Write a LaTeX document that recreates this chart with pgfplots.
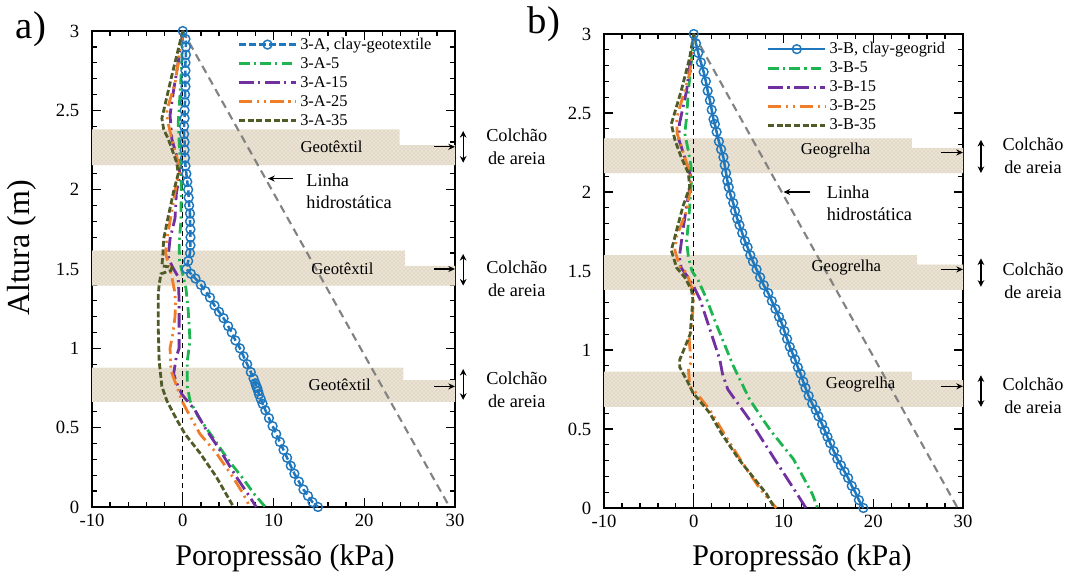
\documentclass[border=0pt]{standalone}
\usepackage{pgfplots}
\pgfplotsset{compat=1.18}
\usepackage{fontspec}
\setmainfont{Liberation Serif}
\usetikzlibrary{patterns,arrows.meta}

\definecolor{cblue}{RGB}{31,119,190}
\definecolor{cgreen}{RGB}{30,180,80}
\definecolor{cpurple}{RGB}{112,48,160}
\definecolor{corange}{RGB}{240,125,40}
\definecolor{colive}{RGB}{80,92,40}
\definecolor{sand}{RGB}{234,226,210}
\definecolor{sanddark}{RGB}{200,190,170}
\definecolor{hydro}{RGB}{130,130,130}

\newcommand{\ticksize}{\fontsize{14}{16}\selectfont}
\newcommand{\legsize}{\fontsize{12.3}{13.9}\selectfont}
\newcommand{\notesize}{\fontsize{13.7}{17.4}\selectfont}
\newcommand{\bandsize}{\fontsize{12.5}{14}\selectfont}
\newcommand{\labsize}{\fontsize{22.5}{24}\selectfont}

\tikzset{
  note/.style={font=\notesize, align=center, inner sep=0pt},
  bandlabel/.style={font=\bandsize, inner sep=0pt},
  sarrow/.style={-{Stealth[length=5pt,width=4.5pt]}, line width=0.9pt, black},
  darrow/.style={{Stealth[length=5pt,width=5pt]}-{Stealth[length=5pt,width=5pt]}, line width=0.9pt, black},
}

\pgfplotsset{
  panel/.style={
    scale only axis, clip=false,
    xmin=-10, xmax=30, ymin=0, ymax=3,
    xtick={-10,0,10,20,30}, xticklabels={-10,0,10,20,30},
    ytick={0,0.5,1,1.5,2,2.5,3}, yticklabels={0,0.5,1,1.5,2,2.5,3},
    minor x tick num=4, minor y tick num=4,
    tick align=inside, xtick pos=both, ytick pos=both,
    major tick length=6.5pt, minor tick length=3.5pt,
    every tick/.style={black, line width=1pt},
    axis line style={black, line width=1.2pt},
    /pgf/number format/assume math mode=true,
    xticklabel style={font=\ticksize, yshift=-2pt},
    yticklabel style={font=\ticksize, xshift=-6pt},
    legend style={draw=none, fill=none, font=\legsize, anchor=north west,
      inner sep=0pt, row sep=0.6pt, cells={anchor=west},
      /tikz/every even column/.append style={column sep=1pt}},
    legend image code/.code={\draw[mark repeat=2,mark phase=2,##1]
      plot coordinates {(0pt,0pt) (21.5pt,0pt) (43pt,0pt)};},
  },
  band/.style={forget plot, draw=none, fill=sand,
    postaction={pattern=crosshatch dots, pattern color=sanddark}},
  hydroline/.style={forget plot, hydro, line width=1.6pt, dash pattern=on 6pt off 4pt},
  zeroline/.style={forget plot, black, line width=1.1pt, dash pattern=on 4pt off 3pt},
  sblue/.style={cblue, line width=1.9pt, mark=o, mark size=3.3pt,
    mark options={solid, line width=1.1pt}},
  sgreen/.style={cgreen, line width=2.1pt, dash pattern=on 8pt off 3.2pt on 1.6pt off 3.2pt},
  spurple/.style={cpurple, line width=2.1pt, dash pattern=on 11pt off 3.5pt on 1.6pt off 3.5pt},
  sorange/.style={corange, line width=2.1pt, dash pattern=on 10pt off 3.5pt on 1.6pt off 3.5pt on 1.6pt off 3.5pt},
  solive/.style={colive, line width=2.1pt, dash pattern=on 4.5pt off 2pt},
}

\begin{document}
\begin{tikzpicture}
\path[use as bounding box] (0pt,0pt) rectangle (804pt,431.25pt);

% ---------------- a) clay-geotextile ----------------
\begin{axis}[panel, at={(69pt,51pt)}, anchor=south west,
  width=272.25pt, height=357pt,
  legend style={at={(axis cs:6,2.975)}}]
% sand mattress layers
\addplot[band] coordinates {(-10,2.155) (30,2.155) (30,2.28) (23.9,2.28) (23.9,2.38) (-10,2.38)} -- cycle;
\addplot[band] coordinates {(-10,1.395) (30,1.395) (30,1.52) (24.5,1.52) (24.5,1.616) (-10,1.616)} -- cycle;
\addplot[band] coordinates {(-10,0.662) (30,0.662) (30,0.80) (24.3,0.80) (24.3,0.878) (-10,0.878)} -- cycle;
% hydrostatic line and zero line
\addplot[hydroline] coordinates {(0,3) (29.4,0)};
\addplot[zeroline] coordinates {(0,0) (0,2.98)};
% pore pressure profiles
\addplot[sblue, dash pattern=on 5pt off 2.5pt] coordinates {
 (0,3) (0.3,2.95) (0.35,2.9) (0.35,2.85) (0.3,2.8) (0.3,2.75) (0.3,2.7) (0.3,2.65)
 (0.25,2.6) (0.25,2.55) (0.2,2.5) (0.2,2.45) (0.15,2.4) (0.15,2.35) (0.2,2.3) (0.2,2.25)
 (0.25,2.2) (0.3,2.15) (0.4,2.1) (0.5,2.05) (0.6,2.0) (0.65,1.95) (0.7,1.9) (0.8,1.85)
 (0.8,1.8) (0.85,1.75) (0.85,1.7) (0.85,1.65) (0.8,1.6) (0.6,1.55) (0.4,1.5) (0.9,1.47)
 (1.4,1.44) (2.0,1.40) (2.5,1.36) (3.0,1.32) (3.5,1.27) (4.0,1.23) (4.5,1.19) (5.0,1.14)
 (5.4,1.10) (5.8,1.05) (6.3,1.0) (6.7,0.95) (7.1,0.9) (7.5,0.85) (7.8,0.81) (8.0,0.78)
 (8.1,0.76) (8.2,0.75) (8.3,0.73) (8.4,0.71) (8.6,0.68) (8.8,0.65) (9.1,0.61) (9.5,0.56)
 (9.9,0.51) (10.3,0.46) (10.7,0.41) (11.1,0.36) (11.5,0.31) (11.9,0.26) (12.3,0.21)
 (12.8,0.16) (13.3,0.11) (13.8,0.07) (14.3,0.03) (14.9,0.0)};
\addlegendentry{3-A, clay-geotextile}
\addplot[sgreen] coordinates {
 (0,3) (-0.1,2.8) (-0.3,2.6) (-0.5,2.42) (-0.3,2.2) (-0.15,2.06) (-0.2,1.8) (-0.4,1.67)
 (-0.35,1.55) (-0.1,1.49) (0.35,1.38) (0.6,1.24) (0.8,1.05) (0.5,0.92) (0.5,0.76)
 (0.8,0.67) (1.7,0.57) (3.3,0.44) (5.1,0.29) (6.5,0.19) (7.9,0.08) (9.1,0)};
\addlegendentry{3-A-5}
\addplot[spurple] coordinates {
 (0,3) (-0.5,2.8) (-1.0,2.63) (-1.4,2.47) (-1.2,2.32) (-0.66,2.21) (-0.3,2.1) (-0.7,1.98)
 (-0.85,1.82) (-1.4,1.69) (-1.6,1.58) (-1.2,1.52) (-0.5,1.45) (-0.4,1.3) (-0.4,1.16)
 (-0.4,1.0) (-0.7,0.95) (-1.0,0.84) (-0.66,0.78) (-0.1,0.71) (1.35,0.61) (2.45,0.50)
 (4.3,0.34) (5.9,0.19) (7.2,0.08) (8.1,0)};
\addlegendentry{3-A-15}
\addplot[sorange] coordinates {
 (0,3) (-0.85,2.67) (-1.75,2.5) (-1.7,2.44) (-1.2,2.32) (-0.5,2.17) (-0.3,2.12) (-0.66,2.05)
 (-1.4,1.8) (-1.75,1.69) (-1.9,1.6) (-1.5,1.52) (-1.2,1.45) (-0.9,1.36) (-0.8,1.30) (-0.85,1.2)
 (-1.1,1.09) (-1.4,1.0) (-1.3,0.86) (-0.66,0.76) (-0.1,0.67) (0.45,0.61) (1.9,0.46)
 (3.7,0.34) (5.5,0.19) (6.7,0.08) (7.4,0)};
\addlegendentry{3-A-25}
\addplot[solive] coordinates {
 (0,3) (-0.3,2.93) (-1.2,2.72) (-2.3,2.45) (-2.1,2.38) (-1.6,2.32) (-0.66,2.17) (-0.5,2.1)
 (-1.0,1.99) (-1.6,1.83) (-2.1,1.69) (-2.2,1.58) (-2.3,1.52) (-1.2,1.51) (-1.3,1.49)
 (-2.4,1.47) (-2.6,1.40) (-2.7,1.34) (-2.7,1.13) (-2.6,0.92) (-2.3,0.76) (-1.75,0.67)
 (-0.66,0.55) (0.25,0.46) (1.9,0.34) (3.7,0.19) (4.8,0.08) (5.6,0)};
\addlegendentry{3-A-35}
% labels and arrows
\node[bandlabel] at (axis cs:16.4,2.27) {Geotêxtil};
\node[bandlabel] at (axis cs:17.6,1.50) {Geotêxtil};
\node[bandlabel] at (axis cs:17.3,0.77) {Geotêxtil};
\draw[sarrow] (axis cs:27.7,2.27) -- (axis cs:30,2.27);
\draw[sarrow] (axis cs:27.7,1.50) -- (axis cs:30,1.50);
\draw[sarrow] (axis cs:27.7,0.76) -- (axis cs:30,0.76);
\draw[darrow] (axis cs:30.9,2.37) -- (axis cs:30.9,2.17);
\draw[darrow] (axis cs:30.9,1.595) -- (axis cs:30.9,1.395);
\draw[darrow] (axis cs:30.9,0.87) -- (axis cs:30.9,0.675);
\node[note] at (axis cs:36.8,2.27) {Colchão\\de areia};
\node[note] at (axis cs:36.8,1.44) {Colchão\\de areia};
\node[note] at (axis cs:36.8,0.74) {Colchão\\de areia};
\draw[sarrow] (axis cs:12.2,2.07) -- (axis cs:9.4,2.07);
\node[note, anchor=west] at (axis cs:13.6,2.06) {Linha};
\node[note, anchor=west] at (axis cs:13.6,1.92) {hidrostática};
\end{axis}

% ---------------- b) clay-geogrid ----------------
\begin{axis}[panel, at={(453pt,50.25pt)}, anchor=south west,
  width=269.25pt, height=355.5pt,
  legend style={at={(axis cs:8.1,2.965)}}]
\addplot[band] coordinates {(-10,2.12) (30,2.12) (30,2.28) (24.3,2.28) (24.3,2.34) (-10,2.34)} -- cycle;
\addplot[band] coordinates {(-10,1.38) (30,1.38) (30,1.54) (24.9,1.54) (24.9,1.60) (-10,1.60)} -- cycle;
\addplot[band] coordinates {(-10,0.64) (30,0.64) (30,0.81) (24.3,0.81) (24.3,0.863) (-10,0.863)} -- cycle;
\addplot[hydroline] coordinates {(0,3) (29.4,0)};
\addplot[zeroline] coordinates {(0,0) (0,2.98)};
\addplot[sblue] coordinates {
 (0,3) (0.25,2.94) (0.5,2.88) (0.8,2.82) (1.1,2.76) (1.35,2.70) (1.55,2.64) (1.8,2.58)
 (2.0,2.52) (2.2,2.46) (2.35,2.43) (2.55,2.38) (2.8,2.32) (3.05,2.27) (3.3,2.22)
 (3.45,2.17) (3.6,2.12) (3.75,2.07) (3.9,2.03) (4.1,1.98) (4.4,1.93) (4.6,1.88)
 (4.85,1.83) (5.1,1.79) (5.4,1.74) (5.7,1.69) (6.0,1.65) (6.3,1.60) (6.6,1.56)
 (7.0,1.51) (7.4,1.46) (7.8,1.41) (8.3,1.36) (8.7,1.31) (9.1,1.26) (9.5,1.21)
 (9.8,1.17) (10.1,1.12) (10.4,1.07) (10.7,1.02) (11.0,0.98) (11.3,0.94) (11.6,0.89)
 (11.9,0.85) (12.2,0.80) (12.45,0.76) (12.8,0.71) (13.2,0.66) (13.6,0.62) (13.9,0.58)
 (14.3,0.53) (14.6,0.49) (14.9,0.45) (15.2,0.41) (15.6,0.36) (16.0,0.31) (16.4,0.27)
 (16.8,0.23) (17.2,0.19) (17.6,0.14) (18.0,0.10) (18.4,0.05) (18.9,0)};
\addlegendentry{3-B, clay-geogrid}
\addplot[sgreen] coordinates {
 (0,3) (-0.3,2.8) (-0.6,2.64) (-0.8,2.47) (-1.0,2.37) (-0.6,2.26) (-0.3,2.16) (-0.25,2.07)
 (-0.45,1.91) (-0.6,1.8) (-0.8,1.69) (-0.6,1.59) (-0.2,1.5) (0.5,1.44) (1.3,1.34)
 (2.6,1.15) (4.4,0.90) (6.2,0.69) (7.7,0.56) (8.7,0.48) (11.1,0.31) (13.2,0.09) (13.8,0)};
\addlegendentry{3-B-5}
\addplot[spurple] coordinates {
 (0,3) (-0.8,2.64) (-1.6,2.43) (-1.65,2.33) (-1.0,2.22) (-0.45,2.12) (-0.25,2.09)
 (-0.8,1.91) (-1.2,1.76) (-1.6,1.59) (-1.4,1.52) (-0.5,1.45) (0,1.40) (0.7,1.32)
 (1.8,1.13) (2.9,0.94) (3.2,0.85) (3.8,0.75) (6.2,0.56) (9.0,0.31) (11.5,0.09) (12.5,0)};
\addlegendentry{3-B-15}
\addplot[sorange] coordinates {
 (0,3) (-0.45,2.75) (-1.9,2.47) (-1.85,2.37) (-1.0,2.22) (-0.45,2.12) (-0.3,2.05)
 (-0.8,1.88) (-1.9,1.72) (-2.1,1.63) (-1.5,1.52) (-0.8,1.49) (0,1.36) (-0.2,1.15)
 (-0.5,1.06) (-0.3,0.92) (-0.6,0.89) (-0.45,0.77) (0.4,0.72) (1.8,0.62) (3.6,0.45)
 (5.6,0.27) (7.4,0.12) (9.2,0)};
\addlegendentry{3-B-25}
\addplot[solive] coordinates {
 (0,3) (-0.45,2.85) (-1.4,2.64) (-2.5,2.43) (-2.1,2.33) (-1.4,2.22) (-0.6,2.12)
 (-0.45,2.03) (-1.2,1.91) (-1.9,1.76) (-2.5,1.63) (-1.9,1.52) (-1.0,1.46) (-0.25,1.38)
 (-0.1,1.32) (-0.4,1.1) (-1.55,0.94) (-1.55,0.89) (-0.6,0.79) (-0.1,0.73) (1.8,0.60)
 (3.0,0.48) (5.0,0.31) (8.1,0.09) (9.0,0)};
\addlegendentry{3-B-35}
\node[bandlabel] at (axis cs:15.8,2.26) {Geogrelha};
\node[bandlabel] at (axis cs:17.0,1.52) {Geogrelha};
\node[bandlabel] at (axis cs:18.6,0.78) {Geogrelha};
\draw[sarrow] (axis cs:27.5,2.25) -- (axis cs:30,2.25);
\draw[sarrow] (axis cs:27.5,1.51) -- (axis cs:30,1.51);
\draw[sarrow] (axis cs:27.5,0.77) -- (axis cs:30,0.77);
\draw[darrow] (axis cs:32.0,2.33) -- (axis cs:32.0,2.12);
\draw[darrow] (axis cs:32.0,1.58) -- (axis cs:32.0,1.40);
\draw[darrow] (axis cs:32.0,0.84) -- (axis cs:32.0,0.64);
\node[note] at (axis cs:37.8,2.23) {Colchão\\de areia};
\node[note] at (axis cs:37.8,1.44) {Colchão\\de areia};
\node[note] at (axis cs:37.8,0.71) {Colchão\\de areia};
\draw[sarrow] (axis cs:13.0,2.0) -- (axis cs:10.0,2.0);
\node[note, anchor=west] at (axis cs:14.8,2.0) {Linha};
\node[note, anchor=west] at (axis cs:14.8,1.86) {hidrostática};
\end{axis}

% panel letters and axis titles
\node[font=\fontsize{29}{30}\selectfont, inner sep=0pt] at (23.25pt,409.5pt) {a)};
\node[font=\fontsize{29}{30}\selectfont, inner sep=0pt] at (408pt,413.25pt) {b)};
\node[font=\fontsize{24}{26}\selectfont, rotate=90, inner sep=0pt] at (16.5pt,245.25pt) {Altura (m)};
\node[font=\labsize, inner sep=0pt] at (213.75pt,12.75pt) {Poropressão (kPa)};
\node[font=\labsize, inner sep=0pt] at (601.5pt,12.75pt) {Poropressão (kPa)};
\end{tikzpicture}
\end{document}
